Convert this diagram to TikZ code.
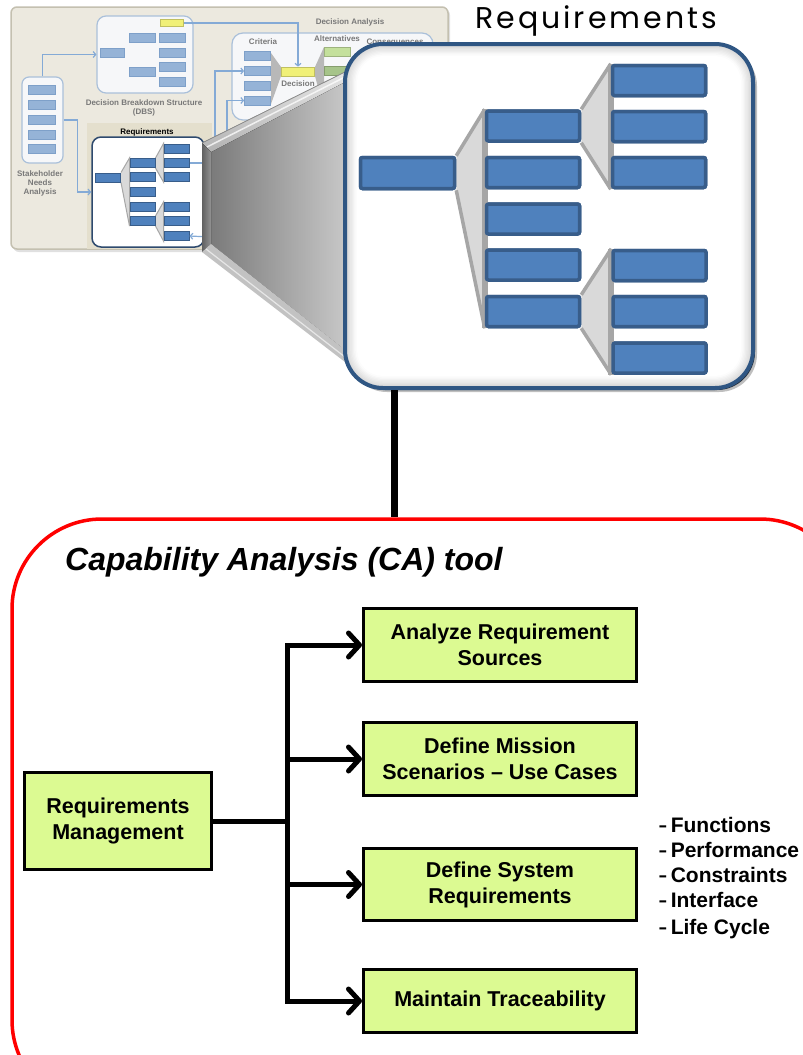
\documentclass[tikz,border=0pt]{standalone}
\usepackage{fontspec}
\setmainfont{Liberation Sans}
\newfontfamily\geofont{Poppins}
\usetikzlibrary{arrows.meta}

\definecolor{reqgreen}{RGB}{220,250,146}
\definecolor{boxblue}{RGB}{79,129,189}
\definecolor{boxedge}{RGB}{56,93,138}
\definecolor{frameblue}{RGB}{47,86,131}
\definecolor{fangray}{RGB}{217,217,217}
\definecolor{fanedge}{RGB}{166,166,166}
\definecolor{paleblue}{RGB}{149,179,215}
\definecolor{paleedge}{RGB}{126,160,201}
\definecolor{linkblue}{RGB}{132,170,214}
\definecolor{panelbg}{RGB}{236,233,223}
\definecolor{paneledge}{RGB}{196,192,176}
\definecolor{hlbg}{RGB}{228,223,205}
\definecolor{labelgray}{RGB}{120,120,120}
\definecolor{framepale}{RGB}{170,192,218}
\definecolor{framefill}{RGB}{246,247,249}
\definecolor{smallframe}{RGB}{46,74,110}
\definecolor{thumbyellow}{RGB}{240,240,120}
\definecolor{altgreen}{RGB}{196,224,156}
\definecolor{altgreendark}{RGB}{166,196,138}

\newcommand\shortdash{\scalebox{0.65}[1]{–}\kern4pt}

\begin{document}
\begin{tikzpicture}[x=1pt,y=-1pt,
  greenbox/.style={draw=black, line width=2.6pt, fill=reqgreen, align=center, inner sep=0pt,
    font=\fontsize{21.5}{26}\selectfont\bfseries},
  flow/.style={draw=black, line width=5pt, line cap=rect},
  flowarrow/.style={flow, -{Straight Barb[length=11pt,width=24pt,round]}},
  bigrect/.style={draw=boxedge, fill=boxblue, line width=3.5pt, rounded corners=2pt,
    minimum width=93pt, minimum height=30pt, inner sep=0pt},
  smallrect/.style={draw=boxedge, fill=boxblue, line width=1pt,
    minimum width=25pt, minimum height=9pt, inner sep=0pt},
  palerect/.style={draw=paleedge, fill=paleblue, line width=0.8pt,
    minimum width=26pt, minimum height=9pt, inner sep=0pt},
  fanfill/.style={fill=fangray},
  fanline/.style={draw=fanedge, line width=3.5pt},
  smallfanline/.style={draw=fanedge, line width=1pt},
  thinlink/.style={draw=linkblue, line width=1.2pt},
  thinarrow/.style={thinlink, -{Straight Barb[length=2.5pt,width=6pt]}},
  tinylabel/.style={font=\fontsize{8}{9}\selectfont\bfseries, text=labelgray, inner sep=0pt, align=center},
  thumbframe/.style={draw=framepale, fill=framefill, line width=1.2pt, rounded corners=7pt, inner sep=0pt},
  speclabel/.style={anchor=base west, inner sep=0pt, font=\fontsize{21}{25}\selectfont\bfseries},
]
\useasboundingbox (0,0) rectangle (803,1055);
\clip (0,0) rectangle (803,1055);
\fill[white] (0,0) rectangle (803,1055);

% ---------------- overview panel ----------------
\fill[black, opacity=.12, rounded corners=6pt] (13,9) rectangle (450,252);
\node[draw=paneledge, fill=panelbg, line width=1.5pt, rounded corners=6pt, inner sep=0pt,
      minimum width=437pt, minimum height=242pt] (panel) at (229.5,128) {};
\fill[hlbg] (87,123) rectangle (212,249);

% stakeholder needs analysis
\node[thumbframe, minimum width=41pt, minimum height=86pt] (sna) at (42.5,120) {};
\foreach \r/\y in {1/90,2/105,3/120,4/135,5/149}
  \node[palerect, minimum width=27pt] (s\r) at (42,\y) {};
\node[tinylabel] (snalbl) at (40,183) {Stakeholder\\Needs\\Analysis};

% decision breakdown structure
\node[thumbframe, minimum width=96pt, minimum height=77pt, rounded corners=9pt] (dbs) at (145,54.5) {};
\node[palerect, fill=thumbyellow, draw=thumbyellow!80!black, minimum width=23pt, minimum height=7pt] (dy) at (172,23) {};
\node[palerect] (d1) at (142,38) {};
\node[palerect] (d2) at (172.5,38) {};
\node[palerect] (d3) at (172.5,52.5) {};
\node[palerect, minimum width=24pt] (d0) at (112.5,52.5) {};
\node[palerect] (d4) at (172.5,66.5) {};
\node[palerect] (d5) at (142,72) {};
\node[palerect] (d6) at (172.5,82) {};
\node[tinylabel] (dbslbl) at (144,108) {Decision Breakdown Structure\\(DBS)};

% decision analysis
\node[tinylabel] (dalbl) at (350,22) {Decision Analysis};
\node[thumbframe, minimum width=201pt, minimum height=87pt, rounded corners=11pt] (da) at (332.5,76.5) {};
\node[tinylabel] (critlbl) at (263,42) {Criteria};
\node[tinylabel] (altlbl) at (337,39) {Alternatives};
\node[tinylabel] (conlbl) at (395,43) {Consequences};
\fill[fangray!85!black] (271,53) -- (281,67) -- (281,76) -- (271,104) -- cycle;
\fill[fangray!85!black] (315,67) -- (324,47) -- (324,110) -- (315,76) -- cycle;
\foreach \r/\y in {1/56,2/71,3/86,4/100.5}
  \node[palerect] (c\r) at (257.5,\y) {};
\node[palerect, fill=thumbyellow, draw=thumbyellow!80!black, minimum width=33pt] (dec) at (298,71.5) {};
\node[tinylabel] (declbl) at (298,84) {Decision};
\node[palerect, fill=altgreen, draw=altgreen!80!black] (a1) at (337,51.5) {};
\node[palerect, fill=altgreendark, draw=altgreendark!80!black] (a2) at (337,70.5) {};

% requirements tree (small)
\node[font=\fontsize{8}{9}\selectfont\bfseries, inner sep=0pt] (reqlbl) at (147,132) {Requirements};
\node[draw=smallframe, fill=white, line width=1.5pt, rounded corners=9pt, inner sep=0pt,
      minimum width=112pt, minimum height=110pt] (reqf) at (148,192) {};
\node[smallrect] (r0) at (108,177.5) {};
\foreach \r/\y in {1/163,2/177,3/192,4/207,5/221}
  \node[smallrect] (m\r) at (142.5,\y) {};
\foreach \r/\y in {1/148.5,2/163,3/177,4/207,5/221,6/236}
  \node[smallrect] (t\r) at (176.5,\y) {};

% small tree brackets
\fill[fanfill] (r0.north east) -- (m1.north west) -- (m5.south west) -- (r0.south east) -- cycle;
\draw[smallfanline] (r0.north east) -- (m1.north west) -- (m5.south west) -- (r0.south east);
\fill[fanfill] (m1.north east) -- (t1.north west) -- (t3.south west) -- (m1.south east) -- cycle;
\draw[smallfanline] (m1.north east) -- (t1.north west) -- (t3.south west) -- (m1.south east);
\fill[fanfill] (m5.north east) -- (t4.north west) -- (t6.south west) -- (m5.south east) -- cycle;
\draw[smallfanline] (m5.north east) -- (t4.north west) -- (t6.south west) -- (m5.south east);
\node[smallrect] at (r0) {};
\foreach \n in {m1,m2,m3,m4,m5,t1,t2,t3,t4,t5,t6}
  \node[smallrect] at (\n) {};

% links between the overview blocks
\draw[thinarrow] (sna.north) |- (dbs.west);
\draw[thinarrow] (sna.east) -- ++(14,0) |- (reqf.west);
\draw[thinarrow] (dy.east) -| (dec.north);
\coordinate (cin1) at (215,170);
\coordinate (cin2) at (227,170);
\draw[thinarrow] (cin1) |- (c2.west);
\draw[thinarrow] (cin2) |- (c4.west);
\coordinate (rout) at (212,163);
\coordinate (rin) at (210,237);
\draw[thinlink] (t2.east) -- (rout);
\draw[thinarrow] (rin) -- (t6.east);

% ---------------- magnifying callout ----------------
\fill[left color=black!52, right color=black!22] (211,152) -- (345,82) -- (345,350) -- (211,244) -- cycle;
\fill[top color=black!10, bottom color=black!30] (202,143) -- (345,72) -- (345,82) -- (211,152) -- cycle;
\fill[left color=black!62, right color=black!42] (202,143) -- (211,152) -- (211,244) -- (202,252) -- cycle;
\fill[black!24] (202,252) -- (211,244) -- (345,350) -- (345,362) -- cycle;
\draw[white, line width=1.5pt, opacity=.75] (207,147) -- (345,77);
\draw[white, line width=1.2pt, opacity=.6] (206,249) -- (345,357);
\draw[black!45, line width=.8pt] (202,143) -- (345,72);

% ---------------- enlarged requirements tree ----------------
\fill[black, opacity=.25, rounded corners=38pt] (349,48) rectangle (757,392);
\fill[black!75!frameblue, opacity=.85, rounded corners=38pt] (347,46) rectangle (755,390);
\foreach \k in {0,...,8}{
  \pgfmathsetmacro\shadeval{max(0,17-2*\k)}
  \pgfmathsetmacro\ins{1.3*\k}
  \pgfmathsetmacro\rad{38-\ins}
  \fill[black!\shadeval, rounded corners=\rad pt] ({345+\ins},{44+\ins}) rectangle ({753-\ins},{388-\ins});
}
\fill[white, rounded corners=26pt] (357,56) rectangle (741,376);
\node[draw=frameblue, line width=4pt, rounded corners=38pt, inner sep=0pt,
      minimum width=408pt, minimum height=344pt] (zoom) at (549,216) {};

\node[bigrect, minimum width=94pt, minimum height=31pt] (R0) at (407.5,173) {};
\foreach \r/\y in {1/126,2/172.5,3/219,4/265,5/311.5}
  \node[bigrect] (M\r) at (533,\y) {};
\foreach \r/\y in {1/80.5,2/126.5,3/172.5}
  \node[bigrect] (T\r) at (659,\y) {};
\foreach \r/\y in {4/265.5,5/311.5,6/358}
  \node[bigrect] (T\r) at (659.5,\y) {};

% grey brackets behind the branches
\fill[fanfill] (R0.north east) -- (M1.north west) -- (M5.south west) -- (R0.south east) -- cycle;
\draw[fanline] (R0.north east) -- (M1.north west);
\draw[fanline] (R0.south east) -- (M5.south west);
\draw[fanline, line width=6pt] (M1.north west) -- (M5.south west);
\fill[fanfill] (M1.north east) -- (T1.north west) -- (T3.south west) -- (M1.south east) -- cycle;
\draw[fanline] (M1.north east) -- (T1.north west);
\draw[fanline] (M1.south east) -- (T3.south west);
\draw[fanline, line width=6pt] (T1.north west) -- (T3.south west);
\fill[fanfill] (M5.north east) -- (T4.north west) -- (T6.south west) -- (M5.south east) -- cycle;
\draw[fanline] (M5.north east) -- (T4.north west);
\draw[fanline] (M5.south east) -- (T6.south west);
\draw[fanline, line width=6pt] (T4.north west) -- (T6.south west);
% boxes again, above the brackets
\node[bigrect, minimum width=94pt, minimum height=31pt] at (R0) {};
\foreach \n in {M1,M2,M3,M4,M5,T1,T2,T3,T4,T5,T6}
  \node[bigrect] at (\n) {};

\node[anchor=base west, inner sep=0pt, font=\geofont\fontsize{30}{36}\selectfont] (reqtitle) at (475,28)
  {R\kern3pt e\kern3pt q\kern3pt u\kern3pt i\kern3pt r\kern3pt e\kern3pt m\kern3pt e\kern3pt n\kern3pt t\kern3pt s};

% ---------------- capability analysis tool ----------------
\node[draw=red, line width=3.5pt, rounded corners=90pt, inner sep=0pt,
      minimum width=838pt, minimum height=591pt] (ca) at (431,814.5) {};
\coordinate (dropx) at (394,0);
\draw[line width=7pt] (zoom.south -| dropx) -- (ca.north -| dropx);

\node[anchor=base west, inner sep=0pt, font=\fontsize{32}{38}\selectfont\bfseries\itshape] (catitle) at (65,570)
  {Capability Analysis (CA) tool};

\node[greenbox, minimum width=187.4pt, minimum height=97.4pt] (rm) at (118,821) {Requirements\\Management};
\node[greenbox, minimum width=273.4pt, minimum height=73.4pt] (src) at (500,645) {Analyze Requirement\\Sources};
\node[greenbox, minimum width=273.4pt, minimum height=73.4pt] (mis) at (500,759) {Define Mission\\Scenarios – Use Cases};
\node[greenbox, minimum width=273.4pt, minimum height=72.4pt] (sys) at (500,884.5) {Define System\\Requirements};
\node[greenbox, minimum width=273.4pt, minimum height=63.4pt] (trc) at (500,1001) {Maintain Traceability};

\coordinate (jt) at (287,645);
\draw[flowarrow] (trc.west -| jt) -- (jt) -- (src.west);
\draw[flowarrow] (mis.west -| jt) -- (mis.west);
\draw[flowarrow] (sys.west -| jt) -- (sys.west);
\draw[flowarrow] (trc.west -| jt) -- (trc.west);
\draw[flow] (rm.east) -- (rm.east -| jt);

\node[speclabel] (spec1) at (659,832) {\shortdash Functions};
\node[speclabel] (spec2) at (659,857) {\shortdash Performance};
\node[speclabel] (spec3) at (659,882) {\shortdash Constraints};
\node[speclabel] (spec4) at (659,907) {\shortdash Interface};
\node[speclabel] (spec5) at (659,934) {\shortdash Life Cycle};
\end{tikzpicture}
\end{document}
